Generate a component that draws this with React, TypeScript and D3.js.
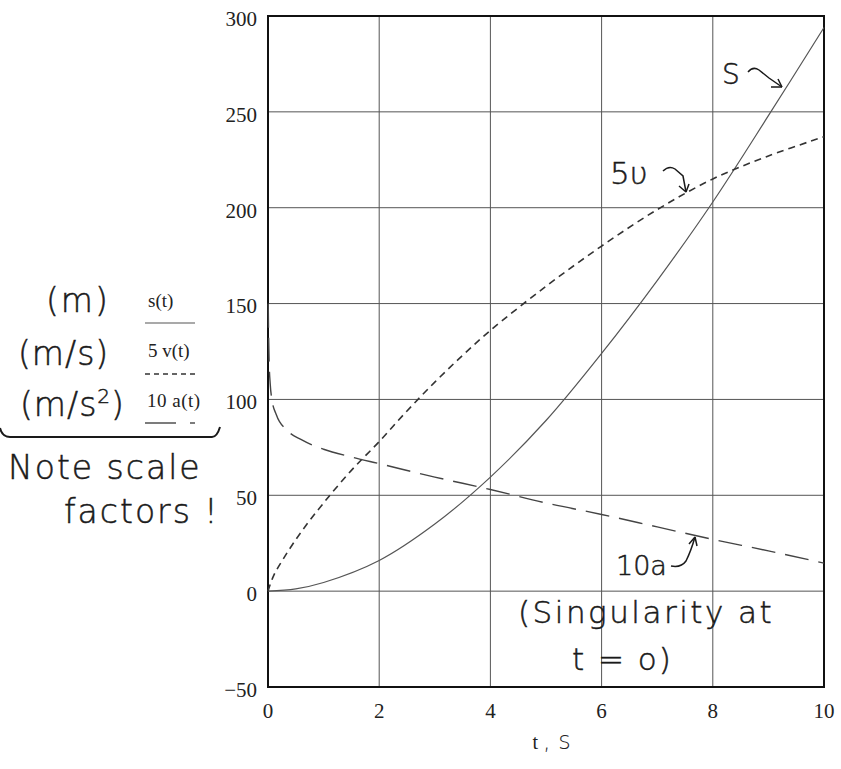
import React from "react";
import * as d3 from "d3";

const xTicks = [0, 2, 4, 6, 8, 10];
const yTicks = [-50, 0, 50, 100, 150, 200, 250, 300];

// s(t), m
const sTime = [0, 0.5, 1, 2, 3, 4, 5, 6, 7, 8, 9, 10];
const sValues = [0, 1.2, 4.5, 16, 35, 59.5, 89, 124, 162, 203, 248, 294];

// 5 v(t), m/s scaled
const vTime = [0, 0.1, 0.3, 0.6, 1, 1.5, 2, 2.5, 3, 3.5, 4, 5, 6, 7, 8, 9, 10];
const vValues = [0, 8, 18, 31, 46, 63, 78, 94, 109, 123, 136, 159, 180, 199, 215, 227, 237];

// 10 a(t), m/s^2 scaled
const aTime = [0.004, 0.01, 0.02, 0.04, 0.07, 0.15, 0.34, 0.6, 1, 1.5, 2, 3, 4, 5, 6, 7, 8, 9, 10];
const aValues = [150, 135, 120, 108, 100, 92, 84, 79, 74, 70, 66.5, 59.5, 53, 46, 40, 33.5, 27, 21, 14.6];

const W = 841;
const H = 769;

const hand = "'DejaVu Sans', 'Open Sans', sans-serif";
const serif = "'Liberation Serif', 'DejaVu Serif', serif";

export default function App() {
  const x = d3.scaleLinear().domain([0, 10]).range([268, 824]);
  const y = d3.scaleLinear().domain([-50, 300]).range([687, 16]);

  const mk = (ts: number[], vs: number[], c: d3.CurveFactory) =>
    d3
      .line<number>()
      .x((_, i) => x(ts[i]))
      .y((d) => y(d))
      .curve(c)(vs) || "";

  const sPath = mk(sTime, sValues, d3.curveCatmullRom.alpha(0.5));
  const vPath = mk(vTime, vValues, d3.curveCatmullRom.alpha(0.5));
  const aPath = mk(aTime, aValues, d3.curveMonotoneX);

  const ink = "#1a1a1a";
  const curve = "#555";
  const hw = { fontFamily: hand, fontWeight: 200, fill: ink, stroke: ink, strokeWidth: 0.5 } as const;

  return (
    <svg
      width={W}
      height={H}
      style={{ position: "absolute", left: 0, top: 0, background: "#fff" }}
    >
      {/* grid */}
      {xTicks.map((t) => (
        <line key={"gx" + t} x1={x(t)} x2={x(t)} y1={y(300)} y2={y(-50)} stroke="#555" strokeWidth={1} />
      ))}
      {yTicks.map((v) => (
        <line key={"gy" + v} x1={x(0)} x2={x(10)} y1={y(v)} y2={y(v)} stroke="#555" strokeWidth={1} />
      ))}
      <rect x={x(0)} y={y(300)} width={x(10) - x(0)} height={y(-50) - y(300)} fill="none" stroke="#111" strokeWidth={2} />

      {/* tick labels */}
      {yTicks.map((v) => (
        <text key={"ly" + v} x={257} y={y(v) + 5} textAnchor="end" dominantBaseline="middle" fontFamily={serif} fontSize={21} fill="#222">
          {v < 0 ? "\u2212" + Math.abs(v) : v}
        </text>
      ))}
      {xTicks.map((t) => (
        <text key={"lx" + t} x={x(t)} y={713} textAnchor="middle" dominantBaseline="middle" fontFamily={serif} fontSize={21} fill="#222">
          {t}
        </text>
      ))}
      <text x={x(5.1)} y={749} textAnchor="middle" fontFamily={serif} fontSize={20} fill="#222">
        t
        <tspan fontFamily={hand} fontWeight={200} fontSize={24} dx={5}>, s</tspan>
      </text>

      {/* curves */}
      <path d={sPath} fill="none" stroke={curve} strokeWidth={1.2} />
      <path d={vPath} fill="none" stroke="#333" strokeWidth={1.6} strokeDasharray="7 5" />
      <path d={aPath} fill="none" stroke="#444" strokeWidth={1.4} strokeDasharray="24 10" />

      {/* curve annotations */}
      <text x={722} y={84} {...hw} fontSize={28}>S</text>
      <path d="M748,72 q5,-6 11,-2 q5,4 10,8 L782,87" fill="none" stroke={ink} strokeWidth={1.5} />
      <path d="M782,87 l-11,0 M782,87 l-4,-8" fill="none" stroke={ink} strokeWidth={1.5} />

      <text x={610} y={184} {...hw} fontSize={31}>5υ</text>
      <path d="M663,171 q6,-6 12,-2 l8,7 L686,192" fill="none" stroke={ink} strokeWidth={1.5} />
      <path d="M686,192 l-7,-6 M686,192 l3,-8" fill="none" stroke={ink} strokeWidth={1.5} />

      <text x={616} y={575} {...hw} fontSize={27}>10a</text>
      <path d="M671,566 q10,2 15,-5 q5,-10 9,-24" fill="none" stroke={ink} strokeWidth={1.5} />
      <path d="M695,537 l-6,7 M695,537 l2,9" fill="none" stroke={ink} strokeWidth={1.5} />

      <text x={518} y={623} {...hw} fontSize={31} letterSpacing={2.5}>(Singularity at</text>
      <text x={572} y={670} {...hw} fontSize={31} letterSpacing={2}>t = o)</text>

      {/* legend */}
      <text x={46} y={312} {...hw} fontSize={33} letterSpacing={2}>(m)</text>
      <text x={18} y={365} {...hw} fontSize={33} letterSpacing={1}>(m/s)</text>
      <text x={20} y={416} {...hw} fontSize={33} letterSpacing={1}>
        (m/s<tspan fontSize={20} dy={-13}>2</tspan><tspan dy={13}>)</tspan>
      </text>

      <text x={148} y={307} fontFamily={serif} fontSize={19} fill="#222">s(t)</text>
      <line x1={145} x2={195} y1={323} y2={323} stroke={curve} strokeWidth={1.2} />
      <text x={148} y={357} fontFamily={serif} fontSize={19} fill="#222">5 v(t)</text>
      <line x1={145} x2={195} y1={374} y2={374} stroke="#333" strokeWidth={1.4} strokeDasharray="5 4" />
      <text x={147} y={407} fontFamily={serif} fontSize={19} fill="#222" letterSpacing={0.5}>10 a(t)</text>
      <line x1={145} x2={176} y1={423} y2={423} stroke="#444" strokeWidth={1.4} />
      <line x1={190} x2={195} y1={423} y2={423} stroke="#444" strokeWidth={1.4} />

      <path d="M0,428 q2,9 10,9 L212,437 q5,0 8,-10" fill="none" stroke={ink} strokeWidth={2} />

      <text x={8} y={479} {...hw} fontSize={33} letterSpacing={2}>Note scale</text>
      <text x={64} y={523} {...hw} fontSize={33} letterSpacing={2}>factors !</text>
    </svg>
  );
}
